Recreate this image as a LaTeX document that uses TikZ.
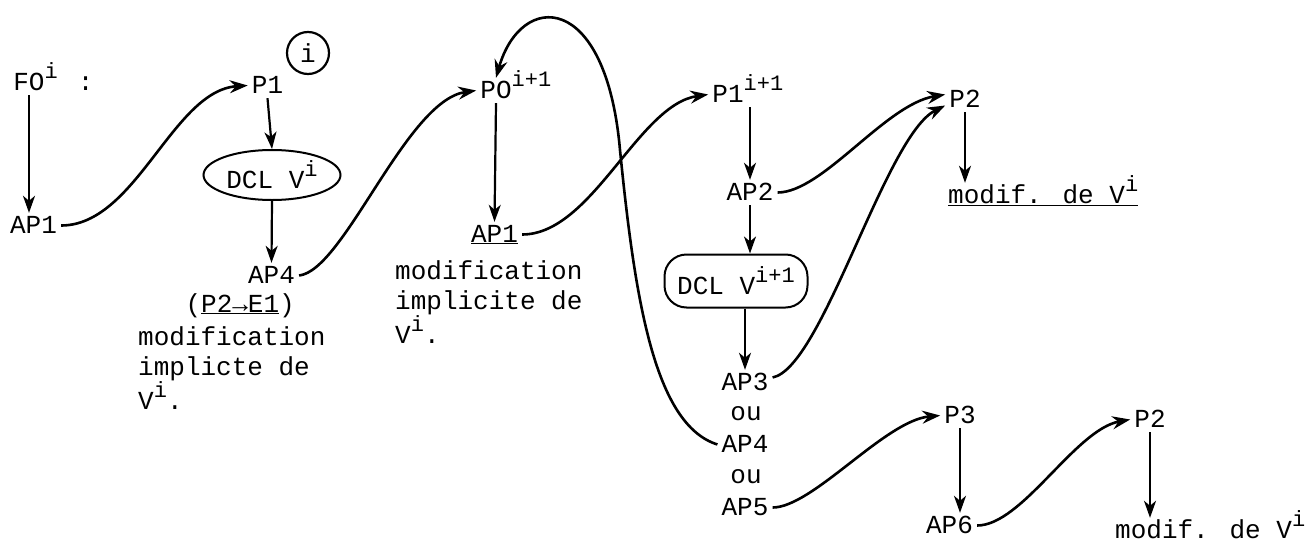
\documentclass[tikz,border=0pt]{standalone}
\usepackage{fontspec}
\setmainfont{Liberation Mono}
\usetikzlibrary{arrows.meta,shapes.geometric}
\newcommand\sups[1]{\raisebox{12pt}{\fontsize{22}{22}\selectfont #1}}

\begin{document}
\begin{tikzpicture}[x=1pt,y=-1pt,
  every node/.style={font=\fontsize{26}{30}\selectfont, inner sep=4pt},
  lbl/.style={anchor=base, text height=16pt, text depth=1pt},
  arr/.style={-{Stealth[length=18pt,width=13pt,inset=6pt]}, line width=2.6pt},
  down/.style={-{Stealth[length=17pt,width=12pt,inset=5pt]}, line width=2.2pt}]
\useasboundingbox (0,0) rectangle (1307,541);
% first column
\node[lbl] (fo) at (29,90) {FO\rlap{\sups{i}\hspace{20pt}:}};
\node[lbl] (apa) at (33.5,233) {AP1};
\node[lbl] (pa) at (267.5,93) {P1};
\node[draw, circle, line width=2.2pt, minimum size=42pt, inner sep=0pt] (circ) at (308,53) {i};
\node[draw, ellipse, line width=2pt, minimum width=137pt, minimum height=50pt, inner sep=0pt] (dcla) at (272,175) {DCL V\sups{i}};
\node[lbl] (apb) at (271.5,283) {AP4};
\node[lbl, anchor=base east] (inha) at (299,312) {(\underline{P2→E1})};
\node[align=left, anchor=north west, inner sep=0pt] (txta) at (138,326) {modification\\implicte de\\V\sups{i}.};
% second column
\node[lbl] (pob) at (496,98) {PO\rlap{\sups{i+1}}};
\node[lbl] (apc) at (494.5,242) {\underline{AP1}};
\node[align=left, anchor=north west, inner sep=0pt] (txtb) at (395,260) {modification\\implicite de\\V\sups{i}.};
\node[lbl] (pb) at (728,102) {P1\rlap{\sups{i+1}}};
\node[lbl] (apd) at (750,200) {AP2};
\node[draw, rounded corners=22pt, line width=2pt, minimum width=143pt, minimum height=53pt, inner sep=0pt] (dclb) at (736,281) {DCL V\sups{i+1}};
\node[lbl] (apf) at (745,390) {AP3};
\node[lbl] (oua) at (746,420) {ou};
\node[lbl] (apg) at (745,452) {AP4};
\node[lbl] (oub) at (746,483) {ou};
\node[lbl] (aph) at (745,515) {AP5};
% right side
\node[lbl] (pc) at (965,107) {P2};
\node[lbl, anchor=base west] (moda) at (944,203) {\underline{modif. de V\sups{i}}};
\node[lbl] (pd) at (960,423) {P3};
\node[lbl] (api) at (949.5,533) {AP6};
\node[lbl] (pe) at (1150,427) {P2};
\node[lbl, anchor=base west] (modb) at (1111,538) {modif. de V\sups{i}};
\coordinate (loopx) at (620,150);
% arrows
\draw[down] (fo.south) -- (fo.south |- apa.north);
\draw[arr] (apa.east) .. controls +(75,0) and +(-75,5) .. (pa.west);
\draw[down] (pa.south) -- (dcla.north);
\draw[down] (dcla.south) -- (apb.north);
\draw[arr] (apb.east) .. controls +(45,-5) and +(-70,10) .. (pob.west);
\draw[down] (pob.south) -- (apc.north);
\draw[arr] (apc.east) .. controls +(70,0) and +(-70,10) .. (pb.west);
\draw[arr] (apg.west) .. controls +(-63,-20) and +(15,150) .. (loopx)
  .. controls +(-14,-160) and +(25,-87) .. (pob.north);
\draw[down] (apd |- pb.south) -- (apd.north);
\draw[down] (apd.south) -- (apd.south |- dclb.north);
\draw[down] (apf |- dclb.south) -- (apf.north);
\draw[arr] (apd.east) .. controls +(45,0) and +(-60,10) .. ([yshift=5pt]pc.west);
\draw[arr] ([yshift=5pt]apf.east) .. controls +(50,-10) and +(-60,30) .. ([yshift=-6pt]pc.west);
\draw[down] (pc.south) -- (pc.south |- moda.north);
\draw[arr] (aph.east) .. controls +(40,0) and +(-55,5) .. (pd.west);
\draw[down] (pd.south) -- (pd.south |- api.north);
\draw[arr] (api.east) .. controls +(45,0) and +(-55,10) .. (pe.west);
\draw[down] (pe.south) -- (pe.south |- modb.north);
\end{tikzpicture}
\end{document}
